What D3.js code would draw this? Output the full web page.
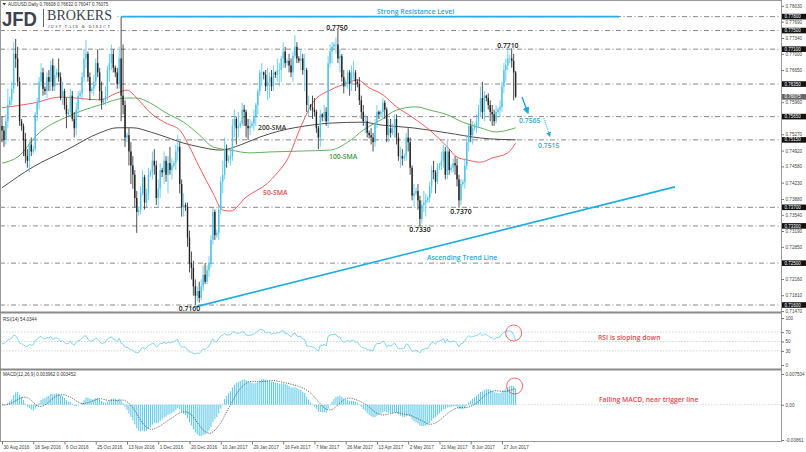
<!DOCTYPE html>
<html>
<head>
<meta charset="utf-8">
<script src="https://cdn.jsdelivr.net/npm/d3@7"></script>
<style>
body { margin: 0; background: #fff; }
svg text { font-family: "Liberation Sans", Arial, sans-serif; }
.note { font-family: "Open Sans", sans-serif; font-weight: 600; font-size: 6.8px; }
.ax text { font-size: 4.6px; fill: #444; }
.ax line { stroke: #777; }
.ax path { display: none; }
</style>
</head>
<body>
<div id="chart"></div>
<script>
// AUDUSD daily, prices in pips (x 1e-4)
var firstOpen = 7545;
var closes = [7535,7515,7555,7590,7600,7625,7700,7690,7640,7555,7545,7515,7480,7470,7505,7490,7495,7570,7595,7640,
  7660,7625,7620,7650,7640,7675,7630,7655,7660,7650,7605,7620,7590,7570,7575,7610,7560,7540,7580,7610,
  7615,7650,7690,7700,7650,7620,7625,7640,7680,7660,7620,7595,7600,7610,7665,7680,7700,7670,7660,7635,
  7690,7610,7590,7520,7525,7490,7460,7440,7390,7360,7365,7400,7435,7380,7400,7440,7445,7470,7460,7390,
  7410,7450,7445,7470,7440,7465,7450,7460,7465,7490,7500,7420,7370,7375,7370,7305,7250,7240,7200,7180,
  7190,7175,7200,7225,7210,7235,7250,7300,7360,7310,7315,7365,7425,7440,7495,7470,7475,7480,7545,7560,
  7540,7545,7550,7580,7575,7545,7540,7545,7550,7565,7590,7620,7660,7660,7655,7630,7640,7650,7630,7660,
  7655,7665,7665,7690,7705,7680,7685,7675,7660,7695,7715,7690,7685,7690,7665,7665,7590,7590,7585,7580,
  7575,7540,7520,7570,7565,7575,7555,7680,7705,7715,7720,7720,7690,7695,7650,7630,7640,7660,7635,7660,
  7660,7640,7635,7600,7575,7555,7555,7530,7525,7520,7510,7550,7575,7570,7575,7595,7580,7525,7540,7530,
  7540,7560,7520,7480,7480,7475,7480,7520,7510,7455,7395,7400,7405,7385,7345,7375,7380,7385,7390,7415,
  7450,7445,7425,7455,7460,7470,7490,7440,7490,7450,7455,7465,7460,7430,7385,7420,7425,7460,7510,7545,
  7525,7540,7545,7555,7575,7605,7575,7610,7605,7590,7575,7570,7555,7575,7580,7585,7630,7665,7675,7690,
  7690,7685,7660,7608];
var highs = [7565,7545,7570,7625,7608,7640,7725,7732,7715,7650,7560,7550,7530,7495,7515,7520,7502,7575,7605,7650,
  7680,7670,7630,7660,7665,7685,7690,7675,7668,7690,7660,7640,7625,7605,7582,7625,7620,7575,7595,7620,
  7622,7660,7710,7730,7705,7660,7630,7655,7690,7710,7670,7640,7605,7630,7675,7700,7720,7710,7675,7670,
  7715,7780,7720,7600,7530,7540,7510,7480,7450,7405,7372,7415,7450,7440,7410,7455,7450,7490,7495,7470,
  7430,7465,7455,7490,7480,7480,7500,7475,7470,7505,7525,7510,7430,7400,7380,7380,7320,7275,7255,7215,
  7200,7210,7215,7245,7250,7245,7265,7310,7370,7365,7322,7375,7435,7470,7520,7505,7482,7495,7560,7580,
  7565,7575,7555,7595,7590,7580,7560,7560,7555,7580,7595,7625,7665,7680,7662,7665,7670,7660,7665,7675,
  7662,7690,7680,7695,7725,7715,7690,7700,7690,7705,7740,7725,7695,7710,7700,7700,7670,7610,7592,7610,
  7605,7580,7545,7580,7572,7590,7585,7695,7720,7725,7725,7735,7750,7710,7700,7665,7645,7665,7665,7675,
  7685,7665,7645,7650,7610,7590,7570,7565,7535,7540,7530,7560,7590,7578,7580,7605,7600,7585,7560,7560,
  7550,7570,7570,7530,7500,7495,7485,7530,7540,7520,7460,7420,7412,7420,7395,7385,7405,7400,7395,7425,
  7460,7470,7450,7465,7465,7490,7505,7500,7515,7495,7462,7475,7480,7475,7440,7430,7430,7475,7525,7550,
  7560,7555,7550,7570,7590,7630,7640,7620,7612,7615,7600,7590,7580,7590,7585,7600,7640,7680,7690,7715,
  7698,7712,7700,7663];
var lows = [7510,7500,7505,7540,7585,7590,7615,7670,7630,7545,7535,7480,7465,7455,7445,7480,7485,7490,7555,7580,
  7630,7610,7612,7605,7620,7620,7620,7620,7648,7640,7600,7590,7580,7540,7565,7570,7555,7520,7525,7565,
  7605,7600,7640,7670,7640,7600,7615,7610,7630,7650,7600,7580,7590,7590,7600,7640,7665,7660,7650,7625,
  7625,7555,7570,7500,7510,7460,7420,7410,7370,7315,7352,7355,7395,7365,7370,7385,7435,7430,7440,7375,
  7370,7390,7435,7420,7425,7400,7440,7430,7455,7450,7470,7400,7350,7350,7362,7285,7230,7215,7180,7160,
  7168,7165,7170,7190,7205,7205,7220,7240,7290,7300,7305,7300,7355,7400,7430,7455,7465,7460,7470,7520,
  7505,7520,7540,7545,7545,7520,7515,7525,7540,7535,7545,7570,7610,7630,7645,7620,7600,7605,7620,7620,
  7648,7640,7630,7640,7670,7670,7675,7660,7650,7640,7690,7680,7680,7665,7655,7620,7575,7565,7578,7560,
  7565,7530,7495,7500,7555,7555,7545,7540,7670,7680,7710,7700,7680,7660,7640,7615,7630,7625,7610,7620,
  7645,7620,7628,7590,7560,7545,7530,7520,7518,7505,7490,7500,7540,7560,7565,7560,7560,7510,7510,7520,
  7525,7520,7505,7470,7455,7460,7470,7470,7490,7440,7385,7370,7395,7365,7330,7335,7360,7350,7380,7380,
  7400,7430,7400,7420,7450,7450,7455,7430,7430,7440,7445,7445,7440,7415,7370,7375,7415,7410,7450,7490,
  7510,7505,7535,7530,7540,7565,7560,7555,7598,7580,7555,7545,7545,7550,7570,7565,7575,7615,7640,7665,
  7680,7670,7600,7605];

// moving averages: [bar index, pips]
var sma50 = [[0,7584],[16,7594],[30,7607],[50,7601],[59,7616],[64,7622],[69,7605],[76,7573],[84,7551],[91,7536],
  [96,7500],[101,7457],[108,7401],[113,7364],[117,7362],[125,7392],[136,7422],[141,7444],[146,7472],[153,7543],
  [159,7594],[168,7622],[177,7637],[182,7644],[188,7627],[195,7612],[202,7586],[210,7564],[219,7536],[228,7500],
  [233,7478],[238,7472],[245,7467],[251,7476],[259,7487],[263,7508]];
var sma100 = [[0,7465],[8,7478],[19,7530],[33,7564],[50,7590],[64,7605],[69,7605],[76,7594],[84,7573],[93,7553],
  [101,7526],[108,7500],[117,7493],[127,7487],[137,7489],[153,7491],[168,7493],[177,7510],[185,7536],[194,7558],
  [202,7579],[212,7586],[219,7579],[228,7569],[236,7553],[245,7541],[253,7532],[263,7541]];
var sma200 = [[0,7412],[16,7457],[33,7493],[50,7530],[59,7541],[67,7541],[76,7532],[84,7521],[93,7508],[101,7500],
  [112,7493],[122,7504],[132,7521],[142,7534],[159,7547],[168,7551],[185,7553],[194,7547],[210,7541],[228,7530],
  [245,7519],[263,7515]];

var dateLabels = ["30 Aug 2016","18 Sep 2016","6 Oct 2016","25 Oct 2016","13 Nov 2016","1 Dec 2016","20 Dec 2016",
  "10 Jan 2017","29 Jan 2017","16 Feb 2017","7 Mar 2017","26 Mar 2017","13 Apr 2017","2 May 2017","21 May 2017",
  "8 Jun 2017","27 Jun 2017"];
var labelEvery = 16;

var levels = [0.7780, 0.7750, 0.7710, 0.7635, 0.7565, 0.7515, 0.7370, 0.7330, 0.7250, 0.7160];
var priceTicks = [0.7803,0.7769,0.7734,0.7700,0.7665,0.7596,0.7527,0.7492,0.7458,0.7423,0.7388,
  0.7354,0.7319,0.7285,0.7216,0.7181,0.7147];
var rsiTicks = [100, 70, 50, 30, 0];
var rsiLevels = [70, 50, 30];
var macdTicks = [0.007504, 0, -0.00861];
var lastPrice = 0.76075;

var w = 806, h = 452;
var svg = d3.select("#chart").append("svg")
  .attr("width", w)
  .attr("height", h);

var x = d3.scaleLinear().domain([0, 399]).range([2, 781.2]);
var y = d3.scaleLinear().domain([0.7160, 0.7780]).range([305, 16.6]);
var yr = d3.scaleLinear().domain([0, 100]).range([365, 318]);
var ym = d3.scaleLinear().domain([-0.00861, 0.007504]).range([440, 374]);

var bars = closes.map(function(c, i) {
  var o = i ? closes[i - 1] : firstOpen;
  return { i: i, o: o / 1e4, c: c / 1e4,
    h: Math.max(highs[i], o, c) / 1e4, l: Math.min(lows[i], o, c) / 1e4 };
});

// RSI(14), Wilder
var ag = 0, al = 0;
for (var k = 1; k <= 14; k++) {
  var dd = closes[k] - closes[k - 1];
  if (dd > 0) ag += dd; else al -= dd;
}
ag /= 14; al /= 14;
var rsi = [100 - 100 / (1 + ag / al)];
for (var i = 1; i < closes.length; i++) {
  var d = closes[i] - closes[i - 1];
  ag = (ag * 13 + Math.max(d, 0)) / 14;
  al = (al * 13 + Math.max(-d, 0)) / 14;
  rsi.push(100 - 100 / (1 + ag / al));
}

// MACD(12,26,9)
var e12 = closes[0] / 1e4, e26 = closes[0] / 1e4, macd = [], signal = [];
closes.forEach(function(c, i) {
  e12 += (c / 1e4 - e12) * 2 / 13;
  e26 += (c / 1e4 - e26) * 2 / 27;
  macd.push(e12 - e26);
  signal.push(d3.mean(macd.slice(Math.max(0, i - 8))));
});

svg.append("defs").append("clipPath").attr("id", "mainclip")
  .append("rect").attr("x", 0).attr("y", 2).attr("width", 781).attr("height", 310);
svg.select("defs").append("marker")
  .attr("id", "arr").attr("viewBox", "0 0 10 10").attr("refX", 8).attr("refY", 5)
  .attr("markerWidth", 5).attr("markerHeight", 5).attr("orient", "auto")
  .append("path").attr("d", "M0,0L10,5L0,10Z").attr("fill", "#1fa8dc");

// level lines
svg.selectAll(".lvl")
  .data(levels)
.enter().append("line")
  .attr("class", "lvl")
  .attr("x1", 0).attr("x2", 781)
  .attr("y1", y).attr("y2", y)
  .style("stroke", "#555")
  .style("stroke-width", 0.7)
  .style("stroke-dasharray", "5,2.5,1,2.5");

var main = svg.append("g").attr("clip-path", "url(#mainclip)");

// moving averages
var maLine = d3.line()
  .x(function(d) { return x(d[0]); })
  .y(function(d) { return y(d[1] / 1e4); })
  .curve(d3.curveMonotoneX);
[[sma200, "#3a3a3a"], [sma100, "#4ea84a"], [sma50, "#ee4b4b"]].forEach(function(s) {
  main.append("path").attr("d", maLine(s[0]))
    .style("fill", "none").style("stroke", s[1]).style("stroke-width", 0.9);
});

// candles
var cg = main.selectAll(".bar")
  .data(bars)
.enter().append("g")
  .attr("class", "bar")
  .style("stroke", function(d) { return d.c >= d.o ? "#4ec3e8" : "#222"; })
  .style("fill", function(d) { return d.c >= d.o ? "#4ec3e8" : "#222"; });
cg.append("line")
  .attr("x1", function(d) { return x(d.i); })
  .attr("x2", function(d) { return x(d.i); })
  .attr("y1", function(d) { return y(d.h); })
  .attr("y2", function(d) { return y(d.l); })
  .style("stroke-width", 0.8);
cg.append("rect")
  .attr("x", function(d) { return x(d.i) - 0.7; })
  .attr("width", 1.4)
  .attr("y", function(d) { return y(Math.max(d.o, d.c)); })
  .attr("height", function(d) { return Math.max(0.6, Math.abs(y(d.o) - y(d.c))); })
  .style("stroke", "none");

// resistance and trend line
svg.append("line")
  .attr("x1", x(61)).attr("x2", x(316))
  .attr("y1", y(0.7780)).attr("y2", y(0.7780))
  .style("stroke", "#2aaee0").style("stroke-width", 1.6);
svg.append("line")
  .attr("x1", x(99)).attr("y1", y(0.7156))
  .attr("x2", x(344.6)).attr("y2", y(0.7414))
  .style("stroke", "#1eaee3").style("stroke-width", 1.6);

// projection arrows
svg.append("line")
  .attr("x1", x(266.3)).attr("y1", y(0.7607))
  .attr("x2", x(269.3)).attr("y2", y(0.7573))
  .attr("marker-end", "url(#arr)")
  .style("stroke", "#1fa8dc").style("stroke-width", 1.4);
svg.append("line")
  .attr("x1", x(277.5)).attr("y1", y(0.7562))
  .attr("x2", x(280.5)).attr("y2", y(0.7523))
  .attr("marker-end", "url(#arr)")
  .style("stroke", "#1fa8dc").style("stroke-width", 1)
  .style("stroke-dasharray", "1,1");

// annotations
function note(t, px, py, col, anchor) {
  svg.append("text").attr("class", "note")
    .attr("x", px).attr("y", py)
    .attr("text-anchor", anchor || "start")
    .style("fill", col).text(t);
}
note("Strong Resistance Level", 377, 13.5, "#2aa7d9");
note("0.7750", x(171.5), y(0.7750) - 1, "#111", "middle");
note("0.7710", x(259), y(0.7710) - 1, "#111", "middle");
note("0.7160", x(96), y(0.7160) + 5.5, "#111", "middle");
note("0.7330", x(214), y(0.7330) + 6.5, "#111", "middle");
note("0.7370", x(235), y(0.7370) + 6.5, "#111", "middle");
note("200-SMA", 258, 129.5, "#333");
note("100-SMA", 329, 158.5, "#3c9a3c");
note("50-SMA", 263, 194.5, "#e04848");
note("0.7565", 519, 122.5, "#1fa8dc");
note("0.7515", 538, 147.5, "#1fa8dc");
note("Ascending Trend Line", 427, 259.5, "#1fa8dc");
note("RSI is sloping down", 598, 339.5, "#e8474c");
note("Falling MACD, near trigger line", 599, 401.5, "#e8474c");

// RSI panel
svg.selectAll(".rl")
  .data(rsiLevels)
.enter().append("line")
  .attr("x1", 0).attr("x2", 781)
  .attr("y1", yr).attr("y2", yr)
  .style("stroke", "#bbb").style("stroke-width", 0.6).style("stroke-dasharray", "1.5,1.5");
svg.append("path")
  .attr("d", d3.line().x(function(d, i) { return x(i); }).y(yr)(rsi))
  .style("fill", "none").style("stroke", "#72d0ec").style("stroke-width", 0.9);
svg.append("circle").attr("cx", x(262)).attr("cy", 333).attr("r", 8)
  .style("fill", "none").style("stroke", "#e8474c").style("stroke-width", 0.8);

// MACD panel
svg.append("line").attr("x1", 0).attr("x2", 781).attr("y1", ym(0)).attr("y2", ym(0))
  .style("stroke", "#bbb").style("stroke-width", 0.6).style("stroke-dasharray", "1.5,1.5");
svg.append("g").selectAll("rect")
  .data(macd)
.enter().append("rect")
  .attr("x", function(d, i) { return x(i) - 0.55; })
  .attr("width", 1.1)
  .attr("y", function(d) { return Math.max(371, ym(Math.max(d, 0))); })
  .attr("height", function(d) { return Math.abs(ym(d) - ym(0)); })
  .style("fill", "#62cbea");
svg.append("path")
  .attr("d", d3.line().x(function(d, i) { return x(i); }).y(ym)(signal))
  .style("fill", "none").style("stroke", "#444").style("stroke-width", 0.8)
  .style("stroke-dasharray", "1.2,1.2");
svg.append("circle").attr("cx", x(262.5)).attr("cy", 386).attr("r", 8)
  .style("fill", "none").style("stroke", "#e8474c").style("stroke-width", 0.8);

// frames
svg.append("rect").attr("x", 0.5).attr("y", 0.5).attr("width", 781).attr("height", 441)
  .style("fill", "none").style("stroke", "#999").style("stroke-width", 1);
[312.5, 369.5].forEach(function(v) {
  svg.append("line").attr("x1", 0).attr("x2", 781.5).attr("y1", v).attr("y2", v)
    .style("stroke", "#8a8a8a").style("stroke-width", 2);
});

// axes
svg.append("g").attr("class", "ax")
  .attr("transform", "translate(781.5,0)")
  .call(d3.axisRight(y).tickValues(priceTicks).tickSize(2.5).tickPadding(1.5).tickFormat(d3.format(".5f")));
svg.append("g").attr("class", "ax")
  .attr("transform", "translate(781.5,0)")
  .call(d3.axisRight(yr).tickValues(rsiTicks).tickSize(2.5).tickPadding(1.5));
svg.append("g").attr("class", "ax")
  .attr("transform", "translate(781.5,0)")
  .call(d3.axisRight(ym).tickValues(macdTicks).tickSize(2.5).tickPadding(1.5)
    .tickFormat(function(d) { return d === 0 ? "0.00" : d > 0 ? "0.007504" : "-0.00861"; }));
var xa = svg.append("g").attr("class", "ax")
  .attr("transform", "translate(0,441.5)")
  .call(d3.axisBottom(x).tickValues(dateLabels.map(function(d, i) { return i * labelEvery; }))
    .tickSize(3).tickPadding(1)
    .tickFormat(function(d) { return dateLabels[d / labelEvery]; }));
xa.selectAll("text").attr("text-anchor", "start").attr("dx", 1);

// level boxes
var lb = svg.selectAll(".lb")
  .data(levels)
.enter().append("g").attr("class", "lb")
  .attr("transform", function(d) { return "translate(782," + y(d) + ")"; });
lb.append("rect").attr("x", 0).attr("y", -2.8).attr("width", 24).attr("height", 5.6).style("fill", "#111");
lb.append("text").attr("x", 2.5).attr("y", 1.6).style("font-size", "4.5px").style("fill", "#fff")
  .text(d3.format(".5f"));
var cp = svg.append("g").attr("transform", "translate(782," + y(lastPrice) + ")");
cp.append("rect").attr("x", 0).attr("y", -2.8).attr("width", 24).attr("height", 5.6).style("fill", "#666");
cp.append("text").attr("x", 2.5).attr("y", 1.6).style("font-size", "4.5px").style("fill", "#fff")
  .text(d3.format(".5f")(lastPrice));

// panel captions
svg.append("text").attr("x", 8).attr("y", 5.8).style("font-size", "4.5px").style("fill", "#333")
  .text("AUDUSD,Daily  0.76608 0.76632 0.76047 0.76075");
svg.append("path").attr("d", "M2.5,3L6,3L4.25,5.5Z").style("fill", "#333");
svg.append("text").attr("x", 3).attr("y", 320.5).style("font-size", "4.6px").style("fill", "#333")
  .text("RSI(14) 54.0344");
svg.append("text").attr("x", 3).attr("y", 376).style("font-size", "4.6px").style("fill", "#333")
  .text("MACD(12,26,9) 0.003962 0.003452");

// logo
var logo = svg.append("g");
logo.append("rect").attr("x", 1).attr("y", 8).attr("width", 115).attr("height", 20).style("fill", "#fff");
logo.append("text").attr("x", 2).attr("y", 26).attr("textLength", 35).attr("lengthAdjust", "spacingAndGlyphs")
  .style("font-size", "21px").style("font-weight", "bold").style("fill", "#3b4351").text("JFD");
logo.append("line").attr("x1", 43.5).attr("x2", 43.5).attr("y1", 9).attr("y2", 27)
  .style("stroke", "#3b4351").style("stroke-width", 0.8);
logo.append("text").attr("x", 47).attr("y", 20).attr("textLength", 65).attr("lengthAdjust", "spacingAndGlyphs")
  .style("font-family", "'Liberation Serif', serif").style("font-size", "15.5px").style("fill", "#3b4351")
  .text("BROKERS");
logo.append("text").attr("x", 48).attr("y", 27.5).attr("textLength", 62).attr("lengthAdjust", "spacing")
  .style("font-family", "'Liberation Serif', serif").style("font-size", "4.2px").style("fill", "#3b4351")
  .text("JUST FAIR & DIRECT");
</script>
</body>
</html>
